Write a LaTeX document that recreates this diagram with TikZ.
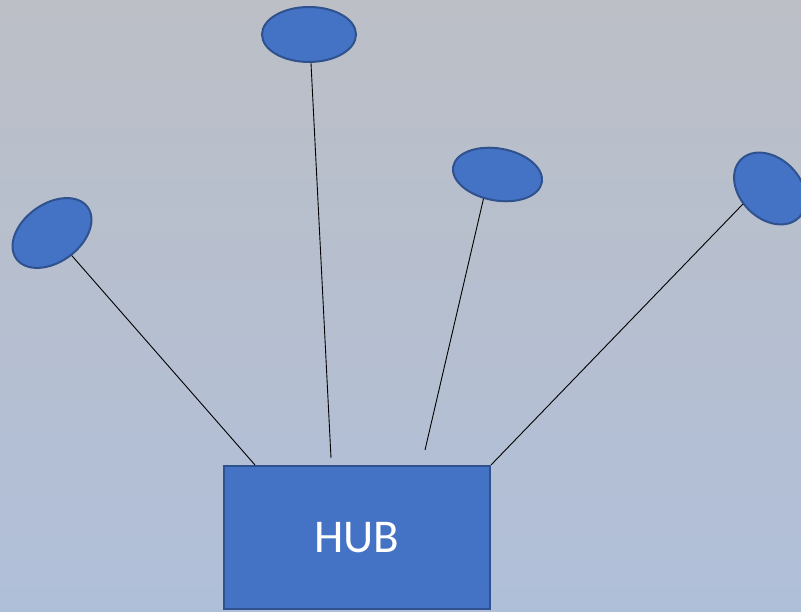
\documentclass[tikz,border=0pt]{standalone}
\usepackage{fontspec}
\setmainfont{Carlito}
\usepackage{tikz}
\usetikzlibrary{positioning,shapes.geometric}
\definecolor{officeblue}{HTML}{4472C4}
\definecolor{officeedge}{HTML}{2F528F}
\definecolor{bgtop}{HTML}{BCBFC6}
\definecolor{bgbottom}{HTML}{B0BFD9}

\begin{document}
\begin{tikzpicture}[x=1pt,y=1pt,
  leaf/.style={ellipse,draw=officeedge,fill=officeblue,line width=2pt,
               inner sep=0pt},
  hubbox/.style={draw=officeedge,fill=officeblue,line width=2pt,
                 minimum width=266pt,minimum height=143pt,
                 text=white,font=\fontsize{47}{50}\selectfont},
  link/.style={line width=0.9pt}
]
  \useasboundingbox (0,0) rectangle (801,612);
  \clip (0,0) rectangle (801,612);
  \shade[top color=bgtop,bottom color=bgbottom] (0,0) rectangle (801,612);

  \node[hubbox] (hub) at (357,74.5) {HUB};

  \node[leaf,minimum width=88pt,minimum height=58pt,rotate=36] (left) at (52,379) {};
  \node[leaf,minimum width=94pt,minimum height=55pt] (top) at (309,577.5) {};
  \node[leaf,minimum width=90pt,minimum height=52pt,rotate=-10] (mid) at (497.5,437.5) {};
  \node[leaf,minimum width=82pt,minimum height=60pt,rotate=-45] (right) at (770,423.5) {};

  % free ends of the two short links
  \coordinate (topend) at (331,154);
  \coordinate (midend) at (425,162);
  \coordinate (leftend) at (255,147);

  \draw[link] (left) -- (leftend);
  \draw[link] (top.274) -- (topend);
  \draw[link] (mid.250) -- (midend);
  \draw[link] (right.255) -- (hub.north east);
\end{tikzpicture}
\end{document}
